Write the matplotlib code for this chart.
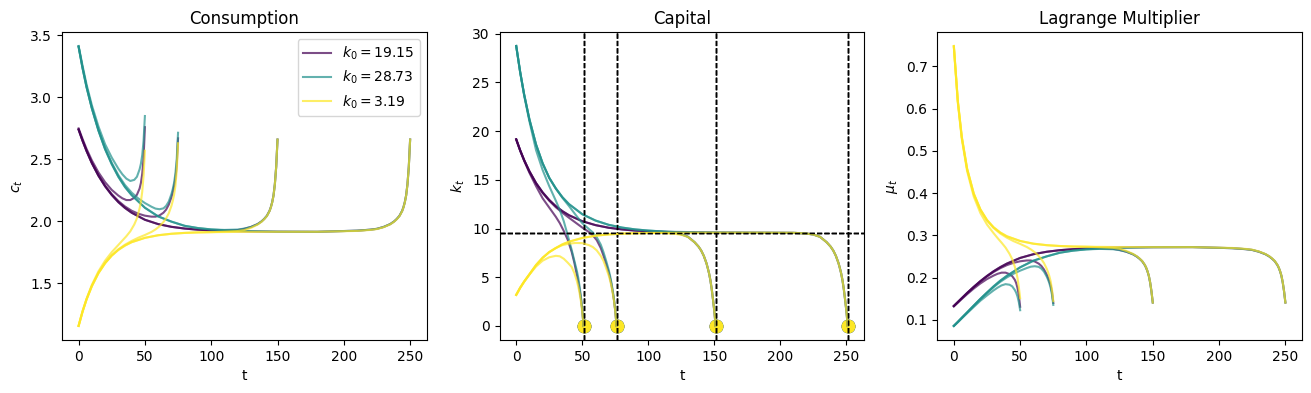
import matplotlib
matplotlib.use('Agg')
import matplotlib.pyplot as plt

k0_labels = ['19.15', '28.73', '3.19']
k_ss = 9.575                     # steady state capital
T_list = [50, 75, 150, 250]      # horizons

# time points for each horizon
t50 = [0, 3, 6, 10, 15, 20, 25, 30, 33, 36, 39, 42, 44, 46, 47, 48, 49, 50]
t75 = [0, 3, 6, 10, 15, 20, 25, 30, 35, 40, 45, 50, 55, 58, 61, 64, 66, 68, 70, 71, 72, 73, 74, 75]
t150 = [0, 3, 6, 10, 15, 20, 25, 30, 35, 40, 50, 60, 70, 80, 90, 100, 110, 120,
        125, 130, 135, 138, 140, 142, 144, 145, 146, 147, 148, 149, 150]
t250 = [0, 3, 6, 10, 15, 20, 25, 30, 35, 40, 50, 60, 70, 80, 90, 100, 110, 120, 150, 180,
        210, 220, 225, 230, 235, 238, 240, 242, 244, 245, 246, 247, 248, 249, 250]
# capital has one more point (T+1, where it hits zero)
tk50 = t50 + [51]
tk75 = t75 + [76]
tk150 = t150 + [151]
tk250 = t250 + [251]

# ---- consumption ----
c_p50 = [2.75, 2.665, 2.585, 2.492, 2.395, 2.316, 2.254, 2.208, 2.186, 2.172, 2.172, 2.19, 2.215, 2.265, 2.31, 2.385, 2.51, 2.76]
c_g50 = [3.415, 3.255, 3.105, 2.937, 2.765, 2.622, 2.515, 2.425, 2.38, 2.345, 2.326, 2.335, 2.36, 2.42, 2.465, 2.535, 2.65, 2.85]
c_y50 = [1.158, 1.276, 1.376, 1.487, 1.597, 1.683, 1.752, 1.81, 1.845, 1.88, 1.92, 1.975, 2.025, 2.105, 2.16, 2.24, 2.37, 2.57]

c_p75 = [2.742, 2.652, 2.57, 2.473, 2.372, 2.288, 2.22, 2.164, 2.12, 2.086, 2.062, 2.046, 2.038, 2.038, 2.048, 2.07,
         2.095, 2.135, 2.195, 2.235, 2.285, 2.345, 2.45, 2.67]
c_g75 = [3.41, 3.238, 3.086, 2.916, 2.737, 2.59, 2.472, 2.373, 2.293, 2.232, 2.185, 2.148, 2.118, 2.103, 2.098, 2.105,
         2.125, 2.16, 2.22, 2.26, 2.31, 2.385, 2.50, 2.715]
c_y75 = [1.157, 1.273, 1.371, 1.479, 1.585, 1.665, 1.727, 1.775, 1.812, 1.842, 1.868, 1.89, 1.915, 1.935, 1.96, 1.995,
         2.025, 2.065, 2.125, 2.165, 2.215, 2.285, 2.41, 2.63]

c_p150 = [2.74, 2.65, 2.568, 2.47, 2.368, 2.283, 2.213, 2.155, 2.108, 2.07, 2.013, 1.978, 1.956, 1.942, 1.933, 1.927,
          1.926, 1.930, 1.94, 1.955, 1.978, 2.0, 2.02, 2.045, 2.085, 2.115, 2.155, 2.21, 2.30, 2.44, 2.66]
c_g150 = [3.41, 3.236, 3.083, 2.912, 2.732, 2.582, 2.462, 2.36, 2.277, 2.212, 2.11, 2.04, 1.998, 1.964, 1.946, 1.935,
          1.931, 1.934, 1.942, 1.955, 1.978, 2.0, 2.02, 2.045, 2.085, 2.115, 2.155, 2.21, 2.30, 2.44, 2.66]
c_y150 = [1.156, 1.272, 1.37, 1.478, 1.583, 1.663, 1.724, 1.77, 1.805, 1.832, 1.867, 1.888, 1.9, 1.907, 1.911, 1.913,
          1.917, 1.922, 1.93, 1.948, 1.974, 1.997, 2.018, 2.043, 2.083, 2.113, 2.153, 2.208, 2.298, 2.438, 2.66]

c_p250 = [2.74, 2.65, 2.568, 2.47, 2.368, 2.283, 2.213, 2.155, 2.108, 2.07, 2.013, 1.978, 1.956, 1.942, 1.933, 1.927,
          1.923, 1.92, 1.917, 1.916, 1.925, 1.933, 1.94, 1.955, 1.978, 2.0, 2.02, 2.045, 2.085, 2.115, 2.155, 2.21,
          2.30, 2.44, 2.66]
c_g250 = [3.41, 3.236, 3.083, 2.912, 2.732, 2.582, 2.462, 2.36, 2.277, 2.212, 2.11, 2.04, 1.998, 1.964, 1.946, 1.935,
          1.928, 1.924, 1.917, 1.916, 1.925, 1.933, 1.94, 1.955, 1.978, 2.0, 2.02, 2.045, 2.085, 2.115, 2.155, 2.21,
          2.30, 2.44, 2.66]
c_y250 = [1.156, 1.272, 1.37, 1.478, 1.583, 1.663, 1.724, 1.77, 1.805, 1.832, 1.867, 1.888, 1.9, 1.907, 1.911, 1.913,
          1.914, 1.915, 1.916, 1.916, 1.923, 1.931, 1.938, 1.953, 1.976, 1.998, 2.018, 2.043, 2.083, 2.113, 2.153,
          2.208, 2.298, 2.438, 2.66]

# ---- capital ----
k_p50 = [19.15, 17.98, 16.95, 15.72, 14.35, 13.1, 12.15, 11.2, 10.55, 9.75, 8.85, 7.6, 6.5, 5.2, 4.5, 3.72, 2.8, 1.62, 0]
k_g50 = [28.73, 26.0, 23.65, 21.0, 18.05, 16.0, 14.35, 12.85, 11.9, 10.75, 9.3, 7.8, 6.7, 5.6, 4.92, 4.02, 2.98, 1.7, 0]
k_y50 = [3.19, 3.92, 4.55, 5.28, 6.1, 6.7, 7.05, 7.2, 7.15, 6.9, 6.5, 6.05, 5.44, 4.58, 4.02, 3.35, 2.52, 1.47, 0]

k_p75 = [19.15, 18.02, 17.02, 15.85, 14.63, 13.65, 12.85, 12.18, 11.62, 11.1, 10.6, 10.1, 9.65, 9.3, 8.8, 8.0,
         7.25, 6.41, 5.5, 4.95, 4.31, 3.56, 2.67, 1.55, 0]
k_g75 = [28.73, 26.06, 23.76, 21.19, 18.62, 16.69, 15.2, 14.1, 13.15, 12.3, 11.4, 10.55, 9.95, 9.6, 9.1, 8.35,
         7.6, 6.72, 5.76, 5.18, 4.5, 3.7, 2.76, 1.58, 0]
k_y75 = [3.19, 3.92, 4.55, 5.3, 6.25, 7.0, 7.58, 8.0, 8.3, 8.45, 8.52, 8.5, 8.3, 8.1, 7.75, 7.2,
         6.7, 5.97, 5.19, 4.71, 4.14, 3.45, 2.6, 1.51, 0]

k_p150 = [19.15, 18.02, 17.02, 15.87, 14.67, 13.71, 12.93, 12.29, 11.78, 11.36, 10.75, 10.35, 10.08, 9.91, 9.79, 9.72,
          9.66, 9.55, 9.4, 9.15, 8.6, 8.15, 7.75, 7.2, 6.45, 5.95, 5.4, 4.7, 3.8, 2.7, 1.5, 0]
k_g150 = [28.73, 26.06, 23.76, 21.19, 18.62, 16.69, 15.2, 14.11, 13.21, 12.5, 11.47, 10.82, 10.38, 10.1, 9.91, 9.79,
          9.7, 9.58, 9.42, 9.16, 8.6, 8.15, 7.75, 7.2, 6.45, 5.95, 5.4, 4.7, 3.8, 2.7, 1.5, 0]
k_y150 = [3.19, 3.92, 4.55, 5.3, 6.25, 7.0, 7.58, 8.0, 8.38, 8.65, 9.03, 9.265, 9.395, 9.475, 9.515, 9.54,
          9.54, 9.46, 9.36, 9.14, 8.6, 8.15, 7.75, 7.2, 6.45, 5.95, 5.4, 4.7, 3.8, 2.7, 1.5, 0]

k_p250 = [19.15, 18.02, 17.02, 15.87, 14.67, 13.71, 12.93, 12.29, 11.78, 11.36, 10.75, 10.35, 10.08, 9.91, 9.79, 9.72,
          9.67, 9.64, 9.59, 9.575, 9.56, 9.48, 9.38, 9.15, 8.6, 8.15, 7.75, 7.2, 6.45, 5.95, 5.4, 4.7, 3.8, 2.7, 1.5, 0]
k_g250 = [28.73, 26.06, 23.76, 21.19, 18.62, 16.69, 15.2, 14.11, 13.21, 12.5, 11.47, 10.82, 10.38, 10.1, 9.91, 9.79,
          9.71, 9.66, 9.6, 9.58, 9.56, 9.48, 9.38, 9.15, 8.6, 8.15, 7.75, 7.2, 6.45, 5.95, 5.4, 4.7, 3.8, 2.7, 1.5, 0]
k_y250 = [3.19, 3.92, 4.55, 5.3, 6.25, 7.0, 7.58, 8.0, 8.38, 8.65, 9.03, 9.265, 9.395, 9.475, 9.515, 9.54,
          9.555, 9.565, 9.572, 9.575, 9.56, 9.48, 9.38, 9.15, 8.6, 8.15, 7.75, 7.2, 6.45, 5.95, 5.4, 4.7, 3.8, 2.7, 1.5, 0]

# ---- lagrange multiplier ----
m_p50 = [0.1322, 0.1408, 0.1497, 0.1610, 0.1743, 0.1864, 0.1968, 0.2051, 0.2093, 0.2120, 0.2120, 0.2085, 0.2038,
         0.1949, 0.1874, 0.1758, 0.1587, 0.1313]
m_g50 = [0.0858, 0.0944, 0.1037, 0.1159, 0.1308, 0.1455, 0.1581, 0.1701, 0.1765, 0.1819, 0.1848, 0.1834, 0.1796,
         0.1708, 0.1646, 0.1556, 0.1424, 0.1231]
m_y50 = [0.7457, 0.6142, 0.5282, 0.4522, 0.3921, 0.3531, 0.3258, 0.3053, 0.2938, 0.2829, 0.2713, 0.2564, 0.2439,
         0.2257, 0.2143, 0.1993, 0.1780, 0.1514]

m_p75 = [0.1330, 0.1422, 0.1514, 0.1635, 0.1777, 0.1910, 0.2029, 0.2135, 0.2225, 0.2298, 0.2352, 0.2389, 0.2408,
         0.2408, 0.2384, 0.2334, 0.2278, 0.2194, 0.2076, 0.2002, 0.1915, 0.1819, 0.1666, 0.1403]
m_g75 = [0.0860, 0.0954, 0.1050, 0.1176, 0.1335, 0.1491, 0.1637, 0.1776, 0.1902, 0.2007, 0.2095, 0.2167, 0.2229,
         0.2261, 0.2272, 0.2257, 0.2215, 0.2143, 0.2029, 0.1958, 0.1874, 0.1758, 0.1600, 0.1357]
m_y75 = [0.7470, 0.6171, 0.5320, 0.4572, 0.3981, 0.3607, 0.3353, 0.3174, 0.3046, 0.2947, 0.2866, 0.2800, 0.2727,
         0.2671, 0.2603, 0.2513, 0.2439, 0.2345, 0.2215, 0.2133, 0.2038, 0.1915, 0.1722, 0.1446]

m_p150 = [0.1332, 0.1424, 0.1516, 0.1639, 0.1783, 0.1919, 0.2042, 0.2153, 0.2250, 0.2334, 0.2468, 0.2556, 0.2614,
          0.2652, 0.2676, 0.2693, 0.2696, 0.2685, 0.2657, 0.2616, 0.2556, 0.2500, 0.2451, 0.2391, 0.2300, 0.2236,
          0.2153, 0.2048, 0.1890, 0.1680, 0.1413]
m_g150 = [0.0860, 0.0955, 0.1052, 0.1179, 0.1340, 0.1500, 0.1650, 0.1796, 0.1929, 0.2044, 0.2246, 0.2403, 0.2505,
          0.2592, 0.2641, 0.2671, 0.2682, 0.2674, 0.2652, 0.2616, 0.2556, 0.2500, 0.2451, 0.2391, 0.2300, 0.2236,
          0.2153, 0.2048, 0.1890, 0.1680, 0.1413]
m_y150 = [0.7483, 0.6181, 0.5328, 0.4578, 0.3991, 0.3616, 0.3365, 0.3192, 0.3069, 0.2980, 0.2869, 0.2805, 0.2770,
          0.2750, 0.2738, 0.2733, 0.2721, 0.2707, 0.2685, 0.2635, 0.2566, 0.2508, 0.2456, 0.2396, 0.2305, 0.2240,
          0.2157, 0.2051, 0.1894, 0.1682, 0.1413]

m_p250 = [0.1332, 0.1424, 0.1516, 0.1639, 0.1783, 0.1919, 0.2042, 0.2153, 0.2250, 0.2334, 0.2468, 0.2556, 0.2614,
          0.2652, 0.2676, 0.2693, 0.2704, 0.2713, 0.2721, 0.2724, 0.2699, 0.2676, 0.2657, 0.2616, 0.2556, 0.2500,
          0.2451, 0.2391, 0.2300, 0.2236, 0.2153, 0.2048, 0.1890, 0.1680, 0.1413]
m_g250 = [0.0860, 0.0955, 0.1052, 0.1179, 0.1340, 0.1500, 0.1650, 0.1796, 0.1929, 0.2044, 0.2246, 0.2403, 0.2505,
          0.2592, 0.2641, 0.2671, 0.2690, 0.2701, 0.2721, 0.2724, 0.2699, 0.2676, 0.2657, 0.2616, 0.2556, 0.2500,
          0.2451, 0.2391, 0.2300, 0.2236, 0.2153, 0.2048, 0.1890, 0.1680, 0.1413]
m_y250 = [0.7483, 0.6181, 0.5328, 0.4578, 0.3991, 0.3616, 0.3365, 0.3192, 0.3069, 0.2980, 0.2869, 0.2805, 0.2770,
          0.2750, 0.2738, 0.2733, 0.2730, 0.2727, 0.2724, 0.2724, 0.2704, 0.2682, 0.2663, 0.2622, 0.2561, 0.2505,
          0.2456, 0.2396, 0.2305, 0.2240, 0.2157, 0.2051, 0.1894, 0.1682, 0.1413]

colors = ['#440154', '#21918c', '#fde725']   # viridis 0, 0.5, 1
tc = [t50, t75, t150, t250]
tk = [tk50, tk75, tk150, tk250]
c_all = [[c_p50, c_p75, c_p150, c_p250], [c_g50, c_g75, c_g150, c_g250], [c_y50, c_y75, c_y150, c_y250]]
k_all = [[k_p50, k_p75, k_p150, k_p250], [k_g50, k_g75, k_g150, k_g250], [k_y50, k_y75, k_y150, k_y250]]
m_all = [[m_p50, m_p75, m_p150, m_p250], [m_g50, m_g75, m_g150, m_g250], [m_y50, m_y75, m_y150, m_y250]]

fig, axs = plt.subplots(1, 3, figsize=(13.11, 3.93), dpi=100)
fig.subplots_adjust(left=0.0473, right=0.9931, bottom=0.1349, top=0.9186, wspace=0.2)

ylabels = ['$c_t$', '$k_t$', '$\\mu_t$']
titles = ['Consumption', 'Capital', 'Lagrange Multiplier']

for i in range(3):
    for j, T in enumerate(T_list):
        lab = '$k_0 = %s$' % k0_labels[i] if j == 0 else None
        axs[0].plot(tc[j], c_all[i][j], color=colors[i], alpha=0.7, label=lab)
        axs[1].plot(tk[j], k_all[i][j], color=colors[i], alpha=0.7)
        axs[2].plot(tc[j], m_all[i][j], color=colors[i], alpha=0.7)
        axs[1].axvline(T + 1, c='k', ls='--', lw=1)
        axs[1].scatter(T + 1, 0, s=80, color=colors[i])
    axs[1].axhline(k_ss, c='k', ls='--', lw=1)

for i in range(3):
    axs[i].set(xlabel='t', ylabel=ylabels[i], title=titles[i])

axs[0].legend(loc='upper right')
fig.savefig('out.png', dpi=100)
